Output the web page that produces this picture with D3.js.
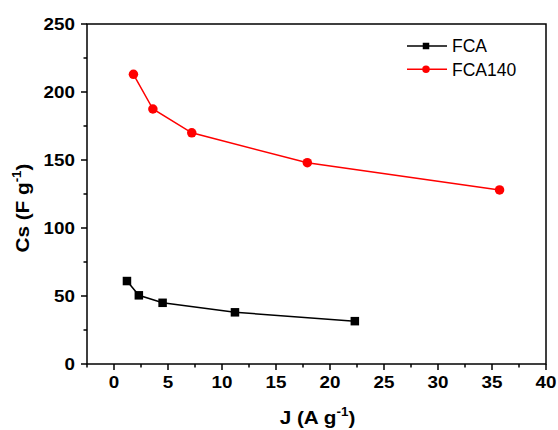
<!DOCTYPE html>
<html>
<head>
<meta charset="utf-8">
<script src="https://cdn.jsdelivr.net/npm/d3@7"></script>
<style>
  body { margin: 0; background: #fff; }
  svg { display: block; font-family: "Liberation Sans", Arial, sans-serif; }
  .tick-label { font-size: 16.8px; font-weight: bold; }
  .axis-title { font-size: 18.5px; font-weight: bold; }
  .legend-text { font-size: 17.5px; }
</style>
</head>
<body>
<svg id="chart" width="558" height="430"></svg>
<script>
// data
var fcaJ = [1.2, 2.3, 4.5, 11.2, 22.3];
var fcaCs = [61, 50.5, 45, 38, 31.5];
var fca140J = [1.8, 3.6, 7.2, 17.9, 35.7];
var fca140Cs = [213, 187.5, 170, 148, 128];
var xTicks = [0, 5, 10, 15, 20, 25, 30, 35, 40];
var yTicks = [0, 50, 100, 150, 200, 250];

var STRETCH = 1.12; // the source text is a bit wider than plain Arial

var margin = {top: 24, right: 12, bottom: 66, left: 87};
var width = 558 - margin.left - margin.right;
var height = 430 - margin.top - margin.bottom;

var svg = d3.select('#chart');
var g = svg.append('g').attr('transform', `translate(${margin.left},${margin.top})`);

var x = d3.scaleLinear().domain([-2.5, 40]).range([0, width]);
var y = d3.scaleLinear().domain([0, 250]).range([height, 0]);

// frame
g.append('rect')
    .attr('width', width)
    .attr('height', height)
    .attr('fill', 'none')
    .attr('stroke', '#000')
    .attr('stroke-width', 1.5);

// x axis: major ticks with labels, minor ticks in between
var xAxis = g.append('g').attr('transform', `translate(0,${height})`);
xAxis.selectAll('.major')
    .data(xTicks)
    .enter()
    .append('line')
    .attr('x1', (d) => x(d)).attr('x2', (d) => x(d))
    .attr('y1', 0).attr('y2', 6)
    .attr('stroke', '#000').attr('stroke-width', 1.5);
xAxis.selectAll('.minor')
    .data(d3.range(-2.5, 40, 5))
    .enter()
    .append('line')
    .attr('x1', (d) => x(d)).attr('x2', (d) => x(d))
    .attr('y1', 0).attr('y2', 3.5)
    .attr('stroke', '#000').attr('stroke-width', 1.5);
xAxis.selectAll('text')
    .data(xTicks)
    .enter()
    .append('text')
    .attr('class', 'tick-label')
    .attr('transform', (d) => `translate(${x(d)},24.3)scale(${STRETCH},1)`)
    .attr('text-anchor', 'middle')
    .text((d) => d);

// y axis
var yAxis = g.append('g');
yAxis.selectAll('.major')
    .data(yTicks)
    .enter()
    .append('line')
    .attr('y1', (d) => y(d)).attr('y2', (d) => y(d))
    .attr('x1', 0).attr('x2', -6)
    .attr('stroke', '#000').attr('stroke-width', 1.5);
yAxis.selectAll('.minor')
    .data(d3.range(25, 250, 50))
    .enter()
    .append('line')
    .attr('y1', (d) => y(d)).attr('y2', (d) => y(d))
    .attr('x1', 0).attr('x2', -3.5)
    .attr('stroke', '#000').attr('stroke-width', 1.5);
yAxis.selectAll('text')
    .data(yTicks)
    .enter()
    .append('text')
    .attr('class', 'tick-label')
    .attr('transform', (d) => `translate(-12,${y(d) + 5.8})scale(${STRETCH},1)`)
    .attr('text-anchor', 'end')
    .text((d) => d);

// axis titles
var xTitle = svg.append('text')
    .attr('class', 'axis-title')
    .attr('transform', `translate(${margin.left + width / 2 + 1},424)scale(${STRETCH},1)`)
    .attr('text-anchor', 'middle');
xTitle.append('tspan').text('J (A g');
xTitle.append('tspan').attr('dy', -8).style('font-size', '12px').text('-1');
xTitle.append('tspan').attr('dy', 8).text(')');

var yTitle = svg.append('text')
    .attr('class', 'axis-title')
    .attr('transform', `translate(29,208)rotate(-90)scale(${STRETCH},1)`)
    .attr('text-anchor', 'middle');
yTitle.append('tspan').text('Cs (F g');
yTitle.append('tspan').attr('dy', -8).style('font-size', '12px').text('-1');
yTitle.append('tspan').attr('dy', 8).text(')');

// series
var series = [
    {name: 'FCA', xs: fcaJ, ys: fcaCs, color: '#000', shape: 'square'},
    {name: 'FCA140', xs: fca140J, ys: fca140Cs, color: '#ff0000', shape: 'circle'}
];

var line = d3.line()
    .x((d) => x(d[0]))
    .y((d) => y(d[1]));

function drawMarker(sel, shape, color, cx, cy, size) {
    if (shape === 'square') {
        sel.append('rect')
            .attr('x', cx - size / 2).attr('y', cy - size / 2)
            .attr('width', size).attr('height', size)
            .attr('fill', color);
    } else {
        sel.append('circle')
            .attr('cx', cx).attr('cy', cy)
            .attr('r', size / 2 + 0.5)
            .attr('fill', color);
    }
}

series.forEach(function (s) {
    var pts = d3.zip(s.xs, s.ys);
    g.append('path')
        .datum(pts)
        .attr('d', line)
        .attr('fill', 'none')
        .attr('stroke', s.color)
        .attr('stroke-width', 1.5);
    var mg = g.append('g');
    pts.forEach(function (p) {
        drawMarker(mg, s.shape, s.color, x(p[0]), y(p[1]), 8.5);
    });
});

// legend
var legend = svg.append('g').attr('transform', 'translate(407,46)');
series.forEach(function (s, i) {
    var row = legend.append('g').attr('transform', `translate(0,${i * 23.3})`);
    row.append('line')
        .attr('x1', 0).attr('x2', 40)
        .attr('y1', 0).attr('y2', 0)
        .attr('stroke', s.color)
        .attr('stroke-width', 1.5);
    drawMarker(row, s.shape, s.color, 19, 0, 6.5);
    row.append('text')
        .attr('class', 'legend-text')
        .attr('x', 45)
        .attr('y', 6.3)
        .text(s.name);
});
</script>
</body>
</html>
